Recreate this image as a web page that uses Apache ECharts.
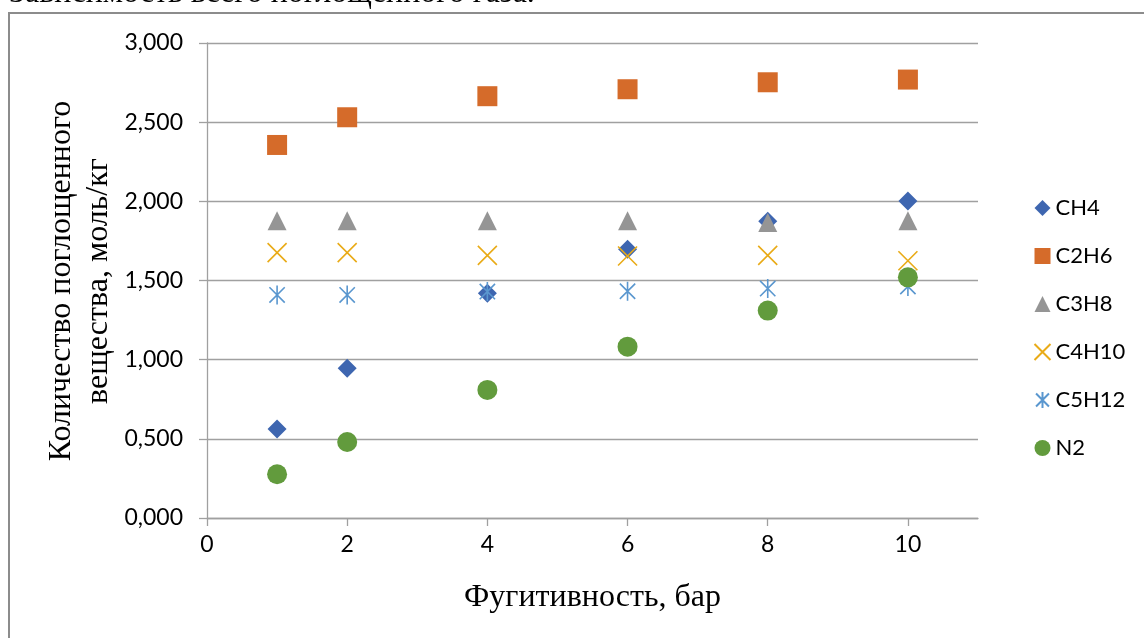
<!DOCTYPE html>
<html>
<head>
<meta charset="utf-8">
<script src="https://cdn.jsdelivr.net/npm/echarts@6/dist/echarts.min.js"></script>
<style>
  html, body { margin: 0; padding: 0; background: #fff; }
  #chart { width: 1144px; height: 638px; }
</style>
</head>
<body>
<div id="chart"></div>
<script>
// Fugacity (bar) at which each gas was measured
const fugacity = [1, 2, 4, 6, 8, 10];

// Adsorbed amount, mol/kg
const ch4   = [0.562, 0.946, 1.419, 1.697, 1.875, 2.002];
const c2h6  = [2.356, 2.531, 2.664, 2.708, 2.752, 2.769];
const c3h8  = [1.878, 1.878, 1.878, 1.878, 1.866, 1.877];
const c4h10 = [1.676, 1.676, 1.659, 1.655, 1.659, 1.625];
const c5h12 = [1.409, 1.409, 1.430, 1.432, 1.449, 1.462];
const n2    = [0.276, 0.480, 0.809, 1.082, 1.310, 1.520];

const seriesNames = ['CH4', 'C2H6', 'C3H8', 'C4H10', 'C5H12', 'N2'];
const xTicks = [0, 2, 4, 6, 8, 10];

const pairs = ys => fugacity.map((x, i) => [x, ys[i]]);

const crossPath = 'path://M0,0L10,10M10,0L0,10';
const starPath = 'path://M0,0L10,10M10,0L0,10M5,-1.2L5,11.2';

const AXIS_GRAY = '#a0a0a0';
const labelFont = 'Lato, "Open Sans", sans-serif';
const serifFont = '"Liberation Serif", "DejaVu Serif", serif';

const chart = echarts.init(document.getElementById('chart'), null, { renderer: 'canvas' });

chart.setOption({
  backgroundColor: '#ffffff',
  animation: false,
  graphic: [
    {
      type: 'rect',
      shape: { x: 9, y: 13, width: 1300, height: 800 },
      style: { fill: 'none', stroke: '#8c8c8c', lineWidth: 2 },
      silent: true
    },
    {
      // caption line above the chart frame, clipped by the page top
      type: 'text',
      x: -23,
      y: 9.5,
      style: {
        text: '1. Зависимость всего поглощенного газа.',
        font: '32px ' + serifFont,
        fill: '#000',
        verticalAlign: 'bottom'
      },
      silent: true
    },
    {
      // y-axis title, two lines, rotated
      type: 'text',
      x: 80,
      y: 281,
      rotation: Math.PI / 2,
      style: {
        text: 'Количество поглощенного\nвещества, моль/кг',
        font: '32px ' + serifFont,
        lineHeight: 37,
        fill: '#000',
        align: 'center',
        verticalAlign: 'middle'
      },
      silent: true
    }
  ],
  grid: { left: 207, right: 166, top: 43, bottom: 120, containLabel: false },
  legend: {
    orient: 'vertical',
    left: 1027,
    top: 192,
    itemWidth: 16,
    itemHeight: 16,
    itemGap: 26,
    data: seriesNames,
    textStyle: { fontFamily: labelFont, fontSize: 22, color: '#000', lineHeight: 22 }
  },
  xAxis: {
    type: 'value',
    min: 0,
    max: 11,
    interval: 2,
    name: 'Фугитивность, бар',
    nameLocation: 'middle',
    nameGap: 64,
    nameTextStyle: { fontFamily: serifFont, fontSize: 32, color: '#000' },
    axisLine: { show: true, onZero: false, lineStyle: { color: AXIS_GRAY, width: 1.3 } },
    axisTick: { show: true, length: 8, customValues: xTicks, lineStyle: { color: AXIS_GRAY, width: 1.3 } },
    axisLabel: {
      customValues: xTicks,
      margin: 15,
      fontFamily: labelFont,
      fontSize: 23,
      color: '#000'
    },
    splitLine: { show: false }
  },
  yAxis: {
    type: 'value',
    min: 0,
    max: 3,
    interval: 0.5,
    axisLine: { show: true, lineStyle: { color: AXIS_GRAY, width: 1.3 } },
    axisTick: { show: true, length: 8, lineStyle: { color: AXIS_GRAY, width: 1.3 } },
    axisLabel: {
      margin: 24,
      fontFamily: labelFont,
      fontSize: 23,
      color: '#000',
      formatter: v => v.toFixed(3).replace('.', ',')
    },
    splitLine: { show: true, lineStyle: { color: AXIS_GRAY, width: 1.3 } }
  },
  series: [
    {
      name: 'CH4', type: 'scatter', data: pairs(ch4), z: 2,
      symbol: 'diamond', symbolSize: 19,
      itemStyle: { color: '#3e66b0', opacity: 1 }
    },
    {
      name: 'C2H6', type: 'scatter', data: pairs(c2h6), z: 2,
      symbol: 'rect', symbolSize: 20,
      itemStyle: { color: '#d56b2a', opacity: 1 }
    },
    {
      name: 'C3H8', type: 'scatter', data: pairs(c3h8), z: 2,
      symbol: 'triangle', symbolSize: 19,
      itemStyle: { color: '#959595', opacity: 1 }
    },
    {
      name: 'C4H10', type: 'scatter', data: pairs(c4h10), z: 2,
      symbol: crossPath, symbolSize: 19, symbolKeepAspect: true,
      itemStyle: { color: 'none', borderColor: '#e9ab17', borderWidth: 1.6, opacity: 1 }
    },
    {
      name: 'C5H12', type: 'scatter', data: pairs(c5h12), z: 2,
      symbol: starPath, symbolSize: 19, symbolKeepAspect: true,
      itemStyle: { color: 'none', borderColor: '#5a97cf', borderWidth: 1.6, opacity: 1 }
    },
    {
      name: 'N2', type: 'scatter', data: pairs(n2), z: 2,
      symbol: 'circle', symbolSize: 20,
      itemStyle: { color: '#629b3d', opacity: 1 }
    }
  ]
});
</script>
</body>
</html>
